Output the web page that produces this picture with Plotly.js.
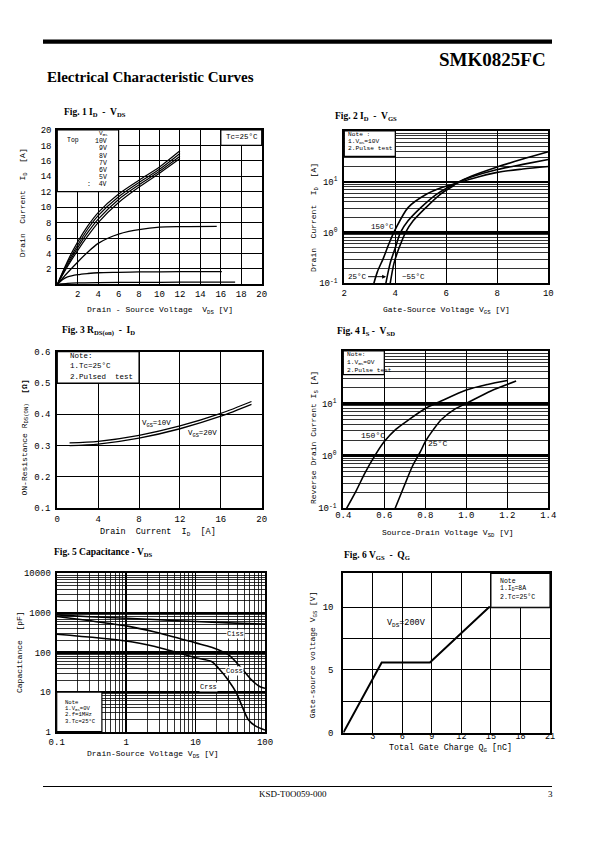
<!DOCTYPE html>
<html><head><meta charset="utf-8">
<script src="https://cdn.plot.ly/plotly-3.0.1.min.js"></script>
<style>html,body{margin:0;padding:0;background:#fff}#chart{width:595px;height:842px}</style>
</head><body><div id="chart"></div>
<script>
// ================= DATA =================
// Fig.1  ID - VDS  (VGS curves)
const f1GateLabels = ['10V', '9V', '8V', '7V', '6V', '5V', '4V'];
const f1VdsBundle = [0, 1, 2, 3, 4, 6, 8, 10, 12];
const f1Id10V = [0, 3.0, 5.5, 7.6, 9.3, 11.7, 13.5, 15.2, 17.3];
const f1Id9V  = [0, 2.75, 5.1, 7.2, 8.9, 11.35, 13.2, 14.9, 16.95];
const f1Id8V  = [0, 2.5, 4.75, 6.75, 8.45, 11.0, 12.9, 14.65, 16.6];
const f1Id7V  = [0, 2.3, 4.4, 6.3, 8.0, 10.6, 12.6, 14.4, 16.3];
const f1Vds6V = [0, 1, 2, 3, 4, 5, 6, 7, 8, 10, 12, 15.6];
const f1Id6V  = [0, 1.5, 2.9, 4.2, 5.3, 6.0, 6.5, 6.85, 7.1, 7.4, 7.47, 7.5];
const f1Vds5V = [0, 0.5, 1, 2, 3, 4, 6, 8, 12, 16.1];
const f1Id5V  = [0, 0.6, 0.95, 1.25, 1.4, 1.5, 1.55, 1.6, 1.63, 1.65];
const f1Vds4V = [0, 1, 2, 4, 8, 12, 17.4];
const f1Id4V  = [0, 0.12, 0.18, 0.22, 0.25, 0.27, 0.28];
const f1Ticks = [2, 4, 6, 8, 10, 12, 14, 16, 18, 20];

// Fig.2  ID - VGS
const f2Vgs150 = [3.16, 3.3, 3.53, 3.75, 4.0, 4.5, 5.2, 5.8, 6.3, 7, 8, 9, 10];
const f2Id150  = [0.1, 0.17, 0.31, 0.6, 1.15, 3.1, 5.6, 7.6, 9.0, 11.5, 15.3, 17.8, 20];
const f2Vgs25  = [3.63, 3.8, 4.0, 4.2, 4.5, 5.0, 5.6, 6.1, 6.4, 7, 8, 9, 10];
const f2Id25   = [0.1, 0.25, 0.5, 1.0, 1.7, 3.1, 5.6, 7.9, 9.5, 12.5, 17.4, 22, 27.4];
const f2VgsM55 = [3.8, 3.95, 4.15, 4.4, 4.7, 5.2, 5.75, 6.2, 6.45, 7, 8, 9, 10];
const f2IdM55  = [0.1, 0.25, 0.5, 1.0, 1.7, 3.1, 5.6, 7.9, 9.6, 13, 19.6, 28, 39];
const f2XTicks = [2, 4, 6, 8, 10];
const logTicks = [0.1, 1, 10];
const logTickText = ['10<sup>-1</sup>', '10<sup>0</sup>', '10<sup>1</sup>'];

// Fig.3  RDS(on) - ID
const f3Id     = [1.2, 4, 8, 12, 16, 19];
const f3Rds10V = [0.309, 0.314, 0.333, 0.363, 0.403, 0.441];
const f3Rds20V = [0.300, 0.305, 0.324, 0.354, 0.394, 0.432];
const f3XTicks = [0, 4, 8, 12, 16, 20];
const f3YTicks = [0.1, 0.2, 0.3, 0.4, 0.5, 0.6];
const f3YTickText = ['0.1', '0.2', '0.3', '0.4', '0.5', '0.6'];

// Fig.4  IS - VSD
const f4Vsd150 = [0.416, 0.464, 0.504, 0.56, 0.6, 0.656, 0.72, 0.8, 0.88, 1.0, 1.104, 1.2];
const f4Is150  = [0.1, 0.22, 0.46, 1.1, 1.87, 3.2, 4.9, 8.0, 11.2, 18, 23, 27.3];
const f4Vsd25  = [0.653, 0.696, 0.736, 0.776, 0.8, 0.84, 0.88, 0.944, 1.0, 1.12, 1.243];
const f4Is25   = [0.1, 0.26, 0.62, 1.2, 1.87, 3.2, 5.0, 7.8, 10, 17.3, 26.7];
const f4XTicks = [0.4, 0.6, 0.8, 1.0, 1.2, 1.4];
const f4XTickText = ['0.4', '0.6', '0.8', '1.0', '1.2', '1.4'];

// Fig.5  Capacitance - VDS
const f5VdsCiss = [0.1, 0.3, 1, 3, 10, 30, 100];
const f5Ciss    = [890, 800, 735, 670, 605, 560, 520];
const f5VdsCoss = [0.1, 0.286, 1, 2.6, 10, 17, 29.6, 46, 64.5, 85, 100];
const f5Coss    = [810, 640, 470, 330, 175, 135, 88, 40, 20, 13.6, 12.5];
const f5VdsCrss = [0.1, 1, 2.6, 10, 17, 21.4, 29.6, 39, 46, 57.6, 72.5, 100];
const f5Crss    = [290, 196, 141, 74, 59, 40, 20, 9.3, 4.7, 2, 1.4, 1.1];
const f5XTicks = [0.1, 1, 10, 100];
const f5XTickText = ['0.1', '1', '10', '100'];
const f5YTicks = [1, 10, 100, 1000, 10000];
const f5YTickText = ['1', '10', '100', '1000', '10000'];

// Fig.6  VGS - QG
const f6Qg  = [0, 3.9, 8.8, 14.8, 21];
const f6Vgs = [0, 5.6, 5.6, 10, 10];
const f6XTicks = [3, 6, 9, 12, 15, 18, 21];
const f6YTicks = [0, 5, 10];
const f6YMinor = [2.5, 7.5];

// ================= LAYOUT HELPERS =================
const W = 595, H = 842;
const MONO = 'Liberation Mono, DejaVu Sans Mono, monospace';
const SERIF = 'Liberation Serif, DejaVu Serif, serif';
const X = (a, b) => [a / W, b / W];
const Y = (top, bot) => [1 - bot / H, 1 - top / H];
const PX = x => x / W;
const PY = y => 1 - y / H;

function minorLog(lo, hi) {
  const v = [];
  for (let d = lo; d < hi * 0.999; d *= 10) for (let m = 2; m <= 9; m++) v.push(+(m * d).toPrecision(3));
  return v;
}

function ax(extra) {
  return Object.assign({
    showline: true, mirror: true, linecolor: 'black', linewidth: 2,
    showgrid: true, gridcolor: 'black', gridwidth: 1,
    zeroline: false, ticks: 'outside', ticklen: 3, tickcolor: 'rgba(0,0,0,0)',
    tickfont: {family: MONO, size: 9, color: 'black'},
    fixedrange: true, automargin: false, tickmode: 'array'
  }, extra);
}

function line(x, y, xa, ya, name, w, shape) {
  return {x, y, xaxis: xa, yaxis: ya, name, mode: 'lines', type: 'scatter',
    line: {color: 'black', width: w || 1.4, shape: shape || 'spline', smoothing: 0.8},
    hoverinfo: 'skip', showlegend: false};
}

const traces = [
  line(f1VdsBundle, f1Id10V, 'x', 'y', f1GateLabels[0], 1.2),
  line(f1VdsBundle, f1Id9V, 'x', 'y', f1GateLabels[1], 1.2),
  line(f1VdsBundle, f1Id8V, 'x', 'y', f1GateLabels[2], 1.2),
  line(f1VdsBundle, f1Id7V, 'x', 'y', f1GateLabels[3], 1.2),
  line(f1Vds6V, f1Id6V, 'x', 'y', f1GateLabels[4], 1.3),
  line(f1Vds5V, f1Id5V, 'x', 'y', f1GateLabels[5], 1.3),
  line(f1Vds4V, f1Id4V, 'x', 'y', f1GateLabels[6], 1.3),
  line(f2Vgs150, f2Id150, 'x2', 'y2', '150°C', 1.6),
  line(f2Vgs25, f2Id25, 'x2', 'y2', '25°C', 1.6),
  line(f2VgsM55, f2IdM55, 'x2', 'y2', '-55°C', 1.6),
  line(f3Id, f3Rds10V, 'x3', 'y3', 'VGS=10V', 1.3),
  line(f3Id, f3Rds20V, 'x3', 'y3', 'VGS=20V', 1.3),
  line(f4Vsd150, f4Is150, 'x4', 'y4', '150°C', 1.6),
  line(f4Vsd25, f4Is25, 'x4', 'y4', '25°C', 1.6),
  line(f5VdsCiss, f5Ciss, 'x5', 'y5', 'Ciss', 1.6),
  line(f5VdsCoss, f5Coss, 'x5', 'y5', 'Coss', 1.6),
  line(f5VdsCrss, f5Crss, 'x5', 'y5', 'Crss', 1.6),
  line(f6Qg, f6Vgs, 'x6', 'y6', 'VDS=200V', 2, 'linear')
];

const minorGrid = (vals, w) => ({tickvals: vals, showgrid: true, gridcolor: 'black', gridwidth: w || 0.8, ticks: ''});

const layout = {
  width: W, height: H, margin: {l: 0, r: 0, t: 0, b: 0},
  paper_bgcolor: 'white', plot_bgcolor: 'white', showlegend: false,
  // Fig 1
  xaxis: ax({domain: X(57.3, 261.7), anchor: 'y', range: [0, 20], tickvals: f1Ticks, ticklen: 4, ticklabelstandoff: -4}),
  yaxis: ax({domain: Y(130, 284.3), anchor: 'x', range: [0, 20], tickvals: f1Ticks, ticklen: 2}),
  // Fig 2
  xaxis2: ax({domain: X(344.3, 548.3), anchor: 'y2', range: [2, 10], tickvals: f2XTicks, ticklen: 4, ticklabelstandoff: -4}),
  yaxis2: ax({domain: Y(131, 283.3), anchor: 'x2', type: 'log', range: [-1, 2], tickvals: logTicks, ticktext: logTickText, gridwidth: 2.5, minor: minorGrid(minorLog(0.1, 100)), ticklen: 3}),
  // Fig 3
  xaxis3: ax({domain: X(57.3, 261.7), anchor: 'y3', range: [0, 20], tickvals: f3XTicks, ticklen: 4, ticklabelstandoff: -3}),
  yaxis3: ax({domain: Y(351.7, 508.3), anchor: 'x3', range: [0.1, 0.6], tickvals: f3YTicks, ticktext: f3YTickText, ticklen: 3}),
  // Fig 4
  xaxis4: ax({domain: X(343.3, 548.3), anchor: 'y4', range: [0.4, 1.4], tickvals: f4XTicks, ticktext: f4XTickText, ticklen: 4, ticklabelstandoff: -7}),
  yaxis4: ax({domain: Y(351, 508.3), anchor: 'x4', type: 'log', range: [-1, 2], tickvals: logTicks, ticktext: logTickText, gridwidth: 3, minor: minorGrid(minorLog(0.1, 100)), ticklen: 3}),
  // Fig 5
  xaxis5: ax({domain: X(56.7, 265), anchor: 'y5', type: 'log', range: [-1, 2], tickvals: f5XTicks, ticktext: f5XTickText, gridwidth: 1.5, minor: minorGrid(minorLog(0.1, 100)), ticklen: 2, ticklabelstandoff: -2}),
  yaxis5: ax({domain: Y(573.3, 731.7), anchor: 'x5', type: 'log', range: [0, 4], tickvals: f5YTicks, ticktext: f5YTickText, gridwidth: 2.5, minor: minorGrid(minorLog(1, 10000)), ticklen: 2}),
  // Fig 6
  xaxis6: ax({domain: X(343.3, 550), anchor: 'y6', range: [0, 21], tickvals: f6XTicks, ticklen: 1, ticklabelstandoff: -7, tickfont: {family: MONO, size: 8.5, color: 'black'}}),
  yaxis6: ax({domain: Y(573.3, 732.7), anchor: 'x6', range: [0, 12.7], tickvals: f6YTicks, minor: minorGrid(f6YMinor, 1), ticklen: 6}),
  shapes: [],
  annotations: []
};

// ---- note boxes (decoration, in axis-domain fractions) ----
function box(xr, yr, x0, x1, y0, y1) {
  return {type: 'rect', xref: xr + ' domain', yref: yr + ' domain', x0, x1, y0, y1,
    fillcolor: 'white', line: {color: 'black', width: 1.2}, layer: 'above'};
}
layout.shapes.push(
  box('x', 'y', 0, 0.3, 0.6, 1),
  box('x', 'y', 0.8, 1, 0.9, 1),
  box('x2', 'y2', 0, 0.25, 0.833, 1),
  box('x3', 'y3', 0, 0.4, 0.8, 1),
  box('x4', 'y4', 0, 0.2, 0.85, 1),
  box('x5', 'y5', 0, 0.217, 0, 0.25),
  box('x6', 'y6', 0.714, 1, 0.787, 1)
);
// header bar & footer rule
layout.shapes.push(
  {type: 'rect', xref: 'paper', yref: 'paper', x0: PX(43), x1: PX(552), y0: PY(43.8), y1: PY(39.6), fillcolor: 'black', line: {width: 0}},
  {type: 'line', xref: 'paper', yref: 'paper', x0: PX(43), x1: PX(552), y0: PY(786.5), y1: PY(786.5), line: {color: 'black', width: 1}}
);

function txt(text, x, y, size, opts) {
  return Object.assign({text, x: PX(x), y: PY(y), xref: 'paper', yref: 'paper', showarrow: false,
    xanchor: 'center', yanchor: 'middle', font: {family: MONO, size, color: 'black'}}, opts || {});
}
const serif = (size, bold) => ({family: SERIF, size, color: 'black', weight: bold ? 'bold' : 'normal'});
const A = layout.annotations;

// header/footer
A.push(txt('<b>SMK0825FC</b>', 548, 59.5, 19, {xanchor: 'right', font: serif(19, true)}));
A.push(txt('<b>Electrical Characteristic Curves</b>', 45, 76.5, 15, {xanchor: 'left', font: serif(15, true)}));
A.push(txt('KSD-T0O059-000', 293, 794, 9, {font: serif(9)}));
A.push(txt('3', 550, 794, 9, {font: serif(9)}));

// figure titles
A.push(txt('<b>Fig. 1 I<sub>D</sub>  -  V<sub>DS</sub></b>', 61.7, 112, 9.5, {xanchor: 'left', font: serif(9.5, true)}));
A.push(txt('<b>Fig. 2 I<sub>D</sub>  -  V<sub>GS</sub></b>', 333.3, 116.5, 9.5, {xanchor: 'left', font: serif(9.5, true)}));
A.push(txt('<b>Fig. 3 R<sub>DS(on)</sub>  -  I<sub>D</sub></b>', 60, 331.5, 9.5, {xanchor: 'left', font: serif(9.5, true)}));
A.push(txt('<b>Fig. 4 I<sub>S</sub> -  V<sub>SD</sub></b>', 335, 331.5, 9.5, {xanchor: 'left', font: serif(9.5, true)}));
A.push(txt('<b>Fig. 5 Capacitance - V<sub>DS</sub></b>', 51.7, 552, 9.5, {xanchor: 'left', font: serif(9.5, true)}));
A.push(txt('<b>Fig. 6 V<sub>GS</sub>  -  Q<sub>G</sub></b>', 341.7, 555, 9.5, {xanchor: 'left', font: serif(9.5, true)}));

// axis titles
const rot = {textangle: -90};
A.push(txt('Drain - Source Voltage  V<sub>DS</sub> [V]', 159.5, 310, 8));
A.push(txt('Drain  Current  I<sub>D</sub>  [A]', 23.3, 203, 8, rot));
A.push(txt('Gate-Source Voltage V<sub>GS</sub> [V]', 446.7, 310.7, 8));
A.push(txt('Drain  Current  I<sub>D</sub>  [A]', 315, 218, 8, rot));
A.push(txt('Drain  Current  I<sub>D</sub>  [A]', 158.3, 532.3, 8.5));
A.push(txt('ON-Resistance R<sub>DS(ON)</sub>  <b>[Ω]</b>', 25, 437.5, 8, rot));
A.push(txt('Source-Drain Voltage V<sub>SD</sub> [V]', 448.3, 533.3, 8));
A.push(txt('Reverse Drain Current I<sub>S</sub> [A]', 315, 438, 8, rot));
A.push(txt('Drain-Source Voltage V<sub>DS</sub> [V]', 153.3, 754.5, 8));
A.push(txt('Capacitance  [pF]', 19.3, 651.7, 8, rot));
A.push(txt('Total Gate Charge Q<sub>G</sub> [nC]', 450, 748.5, 8.3));
A.push(txt('Gate-source voltage V<sub>GS</sub> [V]', 313.3, 655, 8, rot));

// Fig 1 legend box text
A.push(txt('V<sub>GS</sub>', 103.3, 133.5, 6));
A.push(txt('Top', 73.3, 140.5, 6.5));
f1GateLabels.forEach((g, i) => {
  const t = i === f1GateLabels.length - 1 ? ':  ' + g : g;
  A.push(txt(t, 109, 141.7 + i * 7.2, 6.5, {xanchor: 'right'}));
});
A.push(txt('Tc=25°C', 241.7, 137, 7.5));

// Fig 2 notes & labels
A.push(txt('Note :', 346, 134.5, 6.2, {xanchor: 'left'}));
A.push(txt('1.V<sub>DS</sub>=10V', 346, 141.3, 6.2, {xanchor: 'left'}));
A.push(txt('2.Pulse test', 346, 148.8, 6.2, {xanchor: 'left'}));
A.push({text: '150°C', xref: 'x2', yref: 'y2', x: 3.5, y: Math.log10(1.3), showarrow: false, font: {family: MONO, size: 7.5, color: 'black'}});
A.push({text: '25°C', xref: 'x2', yref: 'y2', x: 3.64, y: Math.log10(0.135), showarrow: true, arrowhead: 2, arrowsize: 0.8, arrowwidth: 1, arrowcolor: 'black', ax: -29, ay: 0, font: {family: MONO, size: 7.5, color: 'black'}});
A.push({text: '−55°C', xref: 'x2', yref: 'y2', x: 4.72, y: Math.log10(0.135), showarrow: false, font: {family: MONO, size: 7.5, color: 'black'}});

// Fig 3 notes & labels
A.push(txt('Note:', 68.3, 356, 7.5, {xanchor: 'left'}));
A.push(txt('1.Tc=25°C', 68.3, 366.5, 7.5, {xanchor: 'left'}));
A.push(txt('2.Pulsed  test', 68.3, 377, 7.5, {xanchor: 'left'}));
A.push({text: 'V<sub>GS</sub>=10V', xref: 'x3', yref: 'y3', x: 9.7, y: 0.369, showarrow: false, font: {family: MONO, size: 7.5, color: 'black'}});
A.push({text: 'V<sub>GS</sub>=20V', xref: 'x3', yref: 'y3', x: 14.2, y: 0.336, showarrow: false, font: {family: MONO, size: 7.5, color: 'black'}});

// Fig 4 notes & labels
A.push(txt('Note:', 345, 355, 6.2, {xanchor: 'left'}));
A.push(txt('1.V<sub>GS</sub>=0V', 345, 362.3, 6.2, {xanchor: 'left'}));
A.push(txt('2.Pulse test', 345, 370.5, 6.2, {xanchor: 'left'}));
A.push({text: '150°C', xref: 'x4', yref: 'y4', x: 0.546, y: 0.38, showarrow: false, font: {family: MONO, size: 8, color: 'black'}});
A.push({text: '25°C', xref: 'x4', yref: 'y4', x: 0.86, y: 0.24, showarrow: false, font: {family: MONO, size: 8, color: 'black'}});

// Fig 5 notes & labels
A.push(txt('Note', 63, 702, 5.6, {xanchor: 'left'}));
A.push(txt('1.V<sub>GS</sub>=0V', 63, 708.2, 5.6, {xanchor: 'left'}));
A.push(txt('2.f=1MHz', 63, 714.8, 5.6, {xanchor: 'left'}));
A.push(txt('3.Tc=25°C', 63, 721.2, 5.6, {xanchor: 'left'}));
const capLbl = (t, x, y) => ({text: t, xref: 'x5', yref: 'y5', x: Math.log10(x), y: Math.log10(y), showarrow: false, bgcolor: 'white', borderpad: 0, font: {family: MONO, size: 7, color: 'black'}});
A.push(capLbl('Ciss', 37.3, 288), capLbl('Coss', 36, 34), capLbl('Crss', 15.3, 13.2));

// Fig 6 notes & labels
A.push(txt('Note', 498.3, 581, 6.5, {xanchor: 'left'}));
A.push(txt('1.I<sub>D</sub>=8A', 498.3, 588.3, 6.5, {xanchor: 'left'}));
A.push(txt('2.Tc=25°C', 498.3, 596.6, 6.5, {xanchor: 'left'}));
A.push({text: 'V<sub>DS</sub>=200V', xref: 'x6', yref: 'y6', x: 6.45, y: 8.73, showarrow: false, font: {family: MONO, size: 8.5, color: 'black'}});

Plotly.newPlot('chart', traces, layout, {staticPlot: true, displayModeBar: false});
</script></body></html>
